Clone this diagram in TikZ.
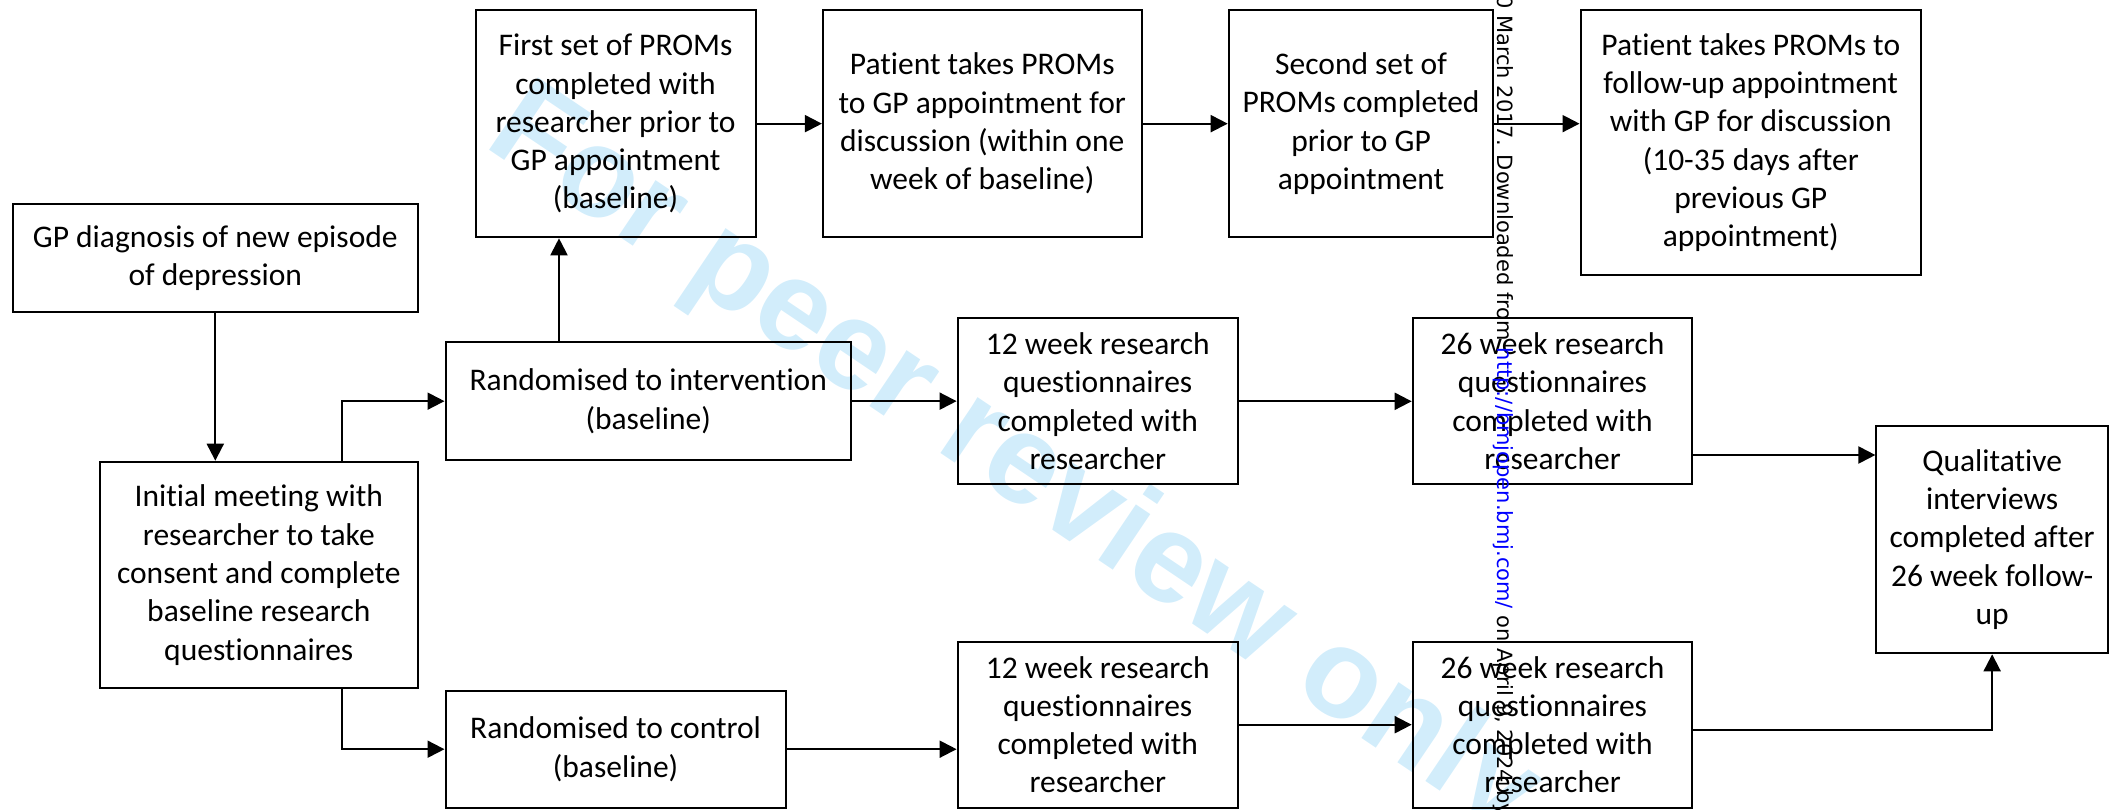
\documentclass[tikz,border=0pt]{standalone}
\usepackage{fontspec}
\setmainfont{Carlito}[Ligatures={NoCommon,NoContextual}]
\newfontfamily\wmfont{Liberation Sans}
\newfontfamily\dvfont{DejaVu Sans}
\usetikzlibrary{arrows.meta}
\definecolor{wmblue}{RGB}{210,237,251}
\begin{document}
\begin{tikzpicture}[x=1pt,y=-1pt,
  box/.style={draw, line width=2pt, inner sep=0pt, align=center, font=\fontsize{31.5}{38.3}\selectfont},
  conn/.style={line width=2pt, -{Triangle[length=17pt,width=17pt]}},
  wmark/.style={rotate=-34, anchor=base west, inner sep=0pt, text=wmblue, font=\wmfont\bfseries\fontsize{127}{150}\selectfont},
  margintext/.style={rotate=-90, anchor=base west, inner sep=0pt, font=\dvfont\fontsize{21}{25}\selectfont}]
\useasboundingbox (0,0) rectangle (2110,809);
\clip (0,0) rectangle (2110,809);
% watermark
\node[wmark] (wm) at (482.5,145) {For peer review only};
% boxes
\node[box, minimum width=405.4pt, minimum height=107.7pt] (gp) at (215.3,257.85) {GP diagnosis of new episode\\of depression};
\node[box, minimum width=318.4pt, minimum height=226.6pt] (init) at (258.8,575) {Initial meeting with\\researcher to take\\consent and complete\\baseline research\\questionnaires};
\node[box, minimum width=405.5pt, minimum height=117.7pt] (rint) at (648.25,401.15) {Randomised to intervention\\(baseline)};
\node[box, minimum width=340.2pt, minimum height=117pt] (rctl) at (615.6,749.2) {Randomised to control\\(baseline)};
\node[box, minimum width=279.9pt, minimum height=227.3pt] (first) at (615.55,123.65) {First set of PROMs\\completed with\\researcher prior to\\GP appointment\\(baseline)};
\node[box, minimum width=318.7pt, minimum height=227.3pt] (pt1) at (982.25,123.65) {Patient takes PROMs\\to GP appointment for\\discussion (within one\\week of baseline)};
\node[box, minimum width=264.7pt, minimum height=227.3pt] (second) at (1361.05,123.65) {Second set of\\PROMs completed\\prior to GP\\appointment};
\node[box, minimum width=340.5pt, minimum height=265pt] (pt2) at (1750.75,142.5) {Patient takes PROMs to\\follow-up appointment\\with GP for discussion\\(10-35 days after\\previous GP\\appointment)};
\node[box, minimum width=280.3pt, minimum height=166pt] (w12a) at (1097.75,401.3) {12 week research\\questionnaires\\completed with\\researcher};
\node[box, minimum width=279.6pt, minimum height=166pt] (w26a) at (1552.5,401.3) {26 week research\\questionnaires\\completed with\\researcher};
\node[box, minimum width=280.3pt, minimum height=166pt] (w12b) at (1097.75,724.7) {12 week research\\questionnaires\\completed with\\researcher};
\node[box, minimum width=279.6pt, minimum height=166pt] (w26b) at (1552.5,724.7) {26 week research\\questionnaires\\completed with\\researcher};
\node[box, minimum width=231.5pt, minimum height=227.6pt] (qual) at (1992.15,539.5) {Qualitative\\interviews\\completed after\\26 week follow-\\up};
% connector helper coordinates
\coordinate (sx) at (342,0);
\coordinate (ux) at (559,0);
\coordinate (qy) at (0,455);
\coordinate (by) at (0,730);
% connectors
\draw[conn] (gp.south) -- (gp.south |- init.north);
\draw[conn] (sx |- init.north) |- (rint.west);
\draw[conn] (sx |- init.south) |- (rctl.west);
\draw[conn] (ux |- rint.north) -- (ux |- first.south);
\draw[conn] (first.east) -- (pt1.west);
\draw[conn] (pt1.east) -- (second.west);
\draw[conn] (second.east) -- (second.east -| pt2.west);
\draw[conn] (rint.east) -- (rint.east -| w12a.west);
\draw[conn] (w12a.east) -- (w26a.west);
\draw[conn] (w26a.east |- qy) -- (qual.west |- qy);
\draw[conn] (rctl.east) -- (rctl.east -| w12b.west);
\draw[conn] (w12b.east) -- (w26b.west);
\draw[conn] (w26b.east |- by) -| (qual.south);
% margin text
\node[margintext] (dl) at (1497,15) {\llap{0 }March 2017. Downloaded from \textcolor{blue}{http://bmjopen.bmj.com/} on April 9, 2024 by};
\end{tikzpicture}
\end{document}
